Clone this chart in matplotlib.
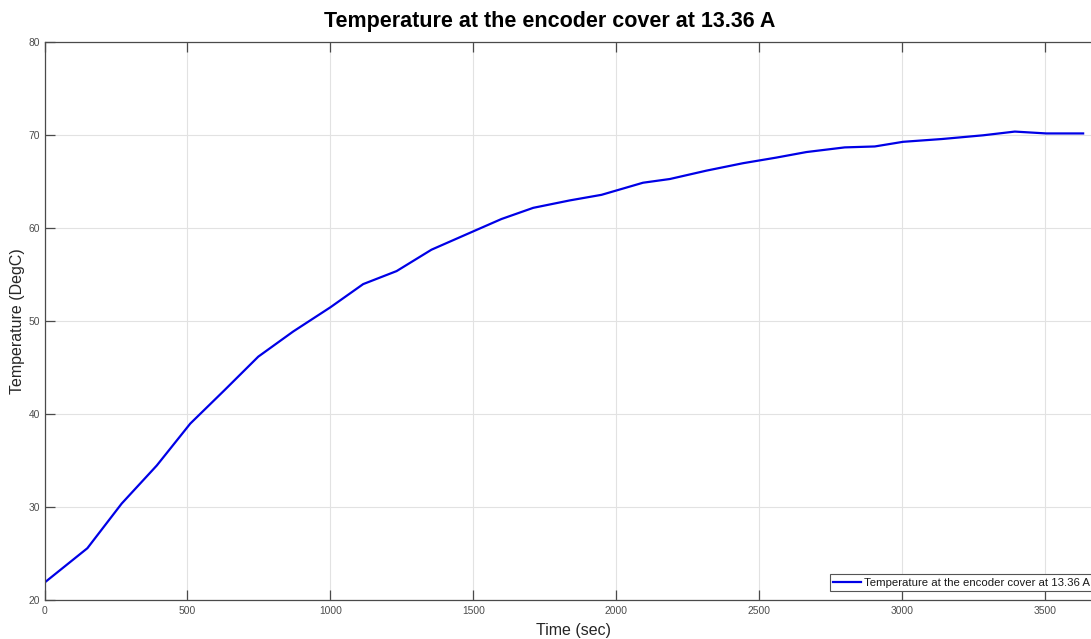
import matplotlib
matplotlib.use("Agg")
import matplotlib.pyplot as plt

# Measured temperature at the encoder cover (13.36 A load)
time_sec = [0, 150, 270, 393, 510, 630, 748, 870, 1000, 1115, 1232, 1354,
            1480, 1599, 1710, 1838, 1949, 2094, 2188, 2316, 2444, 2560,
            2666, 2800, 2905, 3004, 3140, 3284, 3395, 3505, 3634]
temp_degc = [21.9, 25.6, 30.4, 34.5, 39.0, 42.6, 46.2, 48.9, 51.5, 54.0,
             55.4, 57.7, 59.4, 61.0, 62.2, 63.0, 63.6, 64.9, 65.3, 66.2,
             67.0, 67.6, 68.2, 68.7, 68.8, 69.3, 69.6, 70.0, 70.4, 70.2, 70.2]

x_ticks = [0, 500, 1000, 1500, 2000, 2500, 3000, 3500]
y_ticks = [20, 30, 40, 50, 60, 70, 80]

series_label = "Temperature at the encoder cover at 13.36 A"
title_text = "Temperature at the encoder cover at 13.36 A"

plt.rcParams['font.family'] = ['Liberation Sans', 'DejaVu Sans']

W, H = 1091, 639
fig = plt.figure(figsize=(W / 100, H / 100), dpi=100)
fig.patch.set_facecolor('white')

left_px, right_px, top_px, bottom_px = 44.5, 1102.0, 42.3, 600.3
ax = fig.add_axes([left_px / W, 1 - bottom_px / H,
                   (right_px - left_px) / W, (bottom_px - top_px) / H])

ax.plot(time_sec, temp_degc, color='#0000e6', linewidth=1.6, label=series_label)

ax.set_xlim(0, 3700)
ax.set_ylim(20, 80)
ax.set_xticks(x_ticks)
ax.set_yticks(y_ticks)
ax.grid(True, color='#e2e2e2', linewidth=0.8)
ax.set_axisbelow(True)

axis_col = '#4a4a4a'
for s in ax.spines.values():
    s.set_color(axis_col)
    s.set_linewidth(0.9)
ax.tick_params(direction='in', length=7, width=0.9, color=axis_col,
               labelcolor='#4d4d4d', labelsize=7.4, top=True, right=True, pad=4)
ax.tick_params(axis='y', pad=3)

fig.text(550 / W, 1 - 22 / H, title_text, ha='center', va='center',
         fontsize=15.5, fontweight='bold', color='black')
fig.text(573 / W, 1 - 630 / H, "Time (sec)", ha='center', va='center',
         fontsize=11.5, color='#262626')
fig.text(18 / W, 1 - 321 / H, "Temperature (DegC)", ha='center', va='center',
         rotation=90, fontsize=11.5, color='#262626')

leg = ax.legend(loc='lower left', bbox_to_anchor=(829.5 / W, 1 - 591 / H),
                bbox_transform=fig.transFigure, borderaxespad=0,
                fontsize=8.2, fancybox=False, framealpha=1,
                edgecolor='#555555', borderpad=0.3, handlelength=2.5,
                handletextpad=0.2)
leg.get_frame().set_linewidth(0.8)
for t in leg.get_texts():
    t.set_color('#1a1a1a')

fig.savefig("out.png", dpi=100)
